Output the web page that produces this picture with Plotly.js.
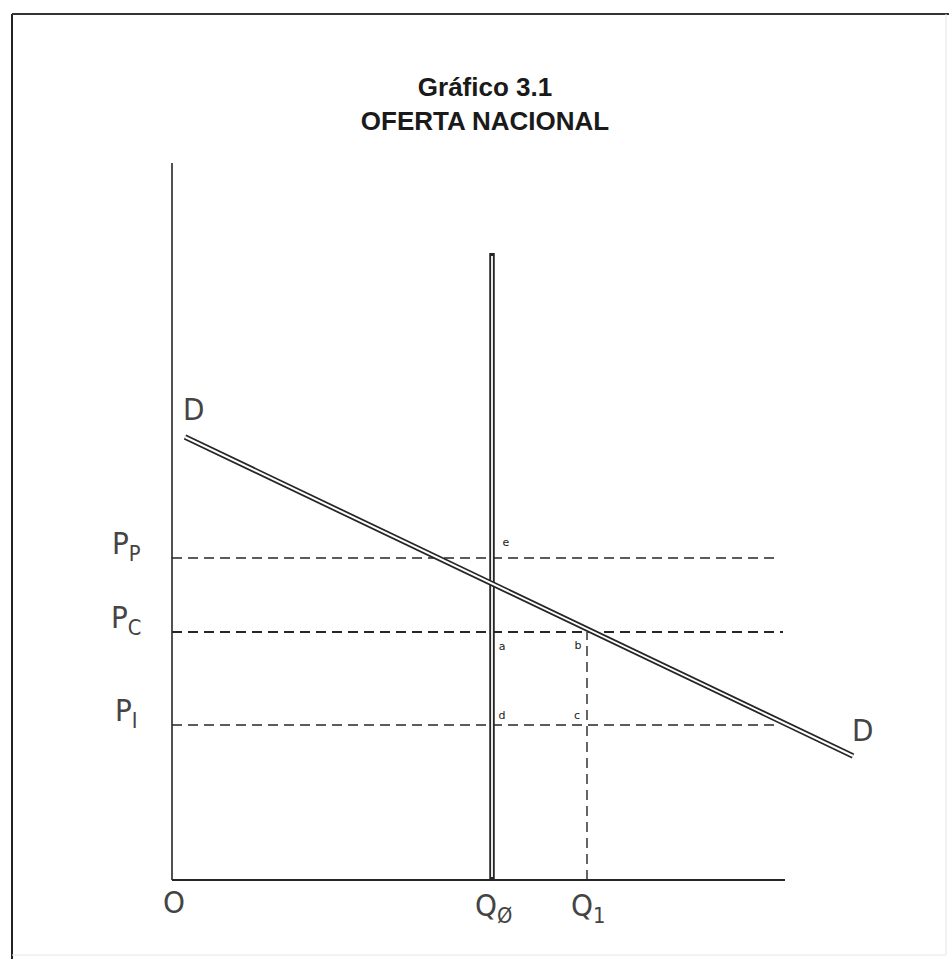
<!DOCTYPE html>
<html>
<head>
<meta charset="utf-8">
<script src="https://cdn.plot.ly/plotly-3.0.1.min.js"></script>
<style>html,body{margin:0;padding:0;background:#fff;}#chart{width:949px;height:959px;}</style>
</head>
<body>
<div id="chart"></div>
<script>
// Economic values (arbitrary units)
const axisQmax = 61.3;        // end of quantity axis
const axisPmax = 71.7;        // top of price axis
const Q0 = 32.0;              // national supply (vertical)
const Q1 = 41.5;
const supplyTop = 62.7;
const priceLevels = [32.2, 24.8, 15.5];          // P_P, P_C, P_I
const priceLabels = ['P<sub>P</sub>', 'P<sub>C</sub>', 'P<sub>I</sub>'];
const priceLineEnd = [60.8, 61.1, 60.8];
const demandQ = [1.3, 68.1];
const demandP = [44.3, 12.4];
const pointLetters = ['e', 'a', 'b', 'd', 'c'];
const pointQ = [33.4, 33.0, 40.6, 33.0, 40.5];
const pointP = [33.7, 23.3, 23.4, 16.4, 16.4];

const ink = '#262626';
const traces = [];
// axes
traces.push({x:[0,0], y:[0,axisPmax], mode:'lines', line:{color:ink, width:1.6}, hoverinfo:'skip'});
traces.push({x:[0,axisQmax], y:[0,0], mode:'lines', line:{color:ink, width:1.8}, hoverinfo:'skip'});
// dashed price lines
priceLevels.forEach((p,i)=>{
  traces.push({x:[0,priceLineEnd[i]], y:[p,p], mode:'lines',
    line:{color:ink, width: i===1 ? 2 : 1.4, dash:'10px,6px'}, hoverinfo:'skip'});
});
// dashed Q1 vertical
traces.push({x:[Q1,Q1], y:[0,priceLevels[1]], mode:'lines', line:{color:ink, width:1.4, dash:'10px,6px'}, hoverinfo:'skip'});
// supply double line
traces.push({x:[Q0,Q0], y:[0,supplyTop], mode:'lines', line:{color:ink, width:5.5}, hoverinfo:'skip'});
traces.push({x:[Q0,Q0], y:[0.3,supplyTop-0.3], mode:'lines', line:{color:'#fff', width:1.8}, hoverinfo:'skip'});
// demand double line
traces.push({x:demandQ, y:demandP, mode:'lines', line:{color:ink, width:5.5}, hoverinfo:'skip'});
traces.push({x:demandQ, y:demandP, mode:'lines', line:{color:'#fff', width:2}, hoverinfo:'skip'});
// point letters
traces.push({x:pointQ, y:pointP, mode:'text', text:pointLetters,
  textfont:{family:'DejaVu Sans', size:11, color:'#1a1a1a'}, hoverinfo:'skip'});

const labelFont = {family:'"Liberation Sans Narrow", "DejaVu Sans Condensed", "Liberation Sans", sans-serif', size:31, color:'#444'};
const annotations = [];
priceLevels.forEach((p,i)=>{
  annotations.push({x:-4.6, y:p+1.3, xref:'x', yref:'y', text:priceLabels[i], showarrow:false,
    xanchor:'center', yanchor:'middle', font:labelFont});
});
annotations.push({x:demandQ[0]+0.8, y:demandP[0]+2.8, xref:'x', yref:'y', text:'D', showarrow:false, font:labelFont});
annotations.push({x:demandQ[1]+0.9, y:demandP[1]+2.6, xref:'x', yref:'y', text:'D', showarrow:false, font:labelFont});
annotations.push({x:0.2, y:-2.2, xref:'x', yref:'y', text:'O', showarrow:false, font:labelFont});
annotations.push({x:Q0+0.1, y:-2.7, xref:'x', yref:'y', text:'Q<sub>Ø</sub>', showarrow:false, font:labelFont});
annotations.push({x:Q1+0.1, y:-2.7, xref:'x', yref:'y', text:'Q<sub>1</sub>', showarrow:false, font:labelFont});

const layout = {
  width:949, height:959,
  margin:{l:0, r:0, t:0, b:0},
  paper_bgcolor:'#fff', plot_bgcolor:'#fff',
  showlegend:false,
  title:{text:'<b>Gráfico 3.1</b><br><b>OFERTA NACIONAL</b>', x:485/949, xanchor:'center',
    y:1-96/959, yanchor:'middle', yref:'container',
    font:{family:'Liberation Sans', size:26, color:'#1a1a1a'}},
  xaxis:{range:[-17.2, 77.7], visible:false, fixedrange:true},
  yaxis:{range:[-7.9, 88.0], visible:false, fixedrange:true},
  annotations:annotations,
  shapes:[
    {type:'line', xref:'paper', yref:'paper', x0:12/949, x1:12/949, y0:0, y1:1-14/959, line:{color:'#222', width:2}},
    {type:'line', xref:'paper', yref:'paper', x0:12/949, x1:1, y0:1-14/959, y1:1-14/959, line:{color:'#333', width:2}},
    {type:'line', xref:'paper', yref:'paper', x0:946/949, x1:946/949, y0:4/959, y1:1-14/959, line:{color:'#e6e6e6', width:1}},
    {type:'line', xref:'paper', yref:'paper', x0:12/949, x1:946/949, y0:4/959, y1:4/959, line:{color:'#e6e6e6', width:1}}
  ]
};
Plotly.newPlot('chart', traces, layout, {staticPlot:true, displayModeBar:false});
</script>
</body>
</html>
